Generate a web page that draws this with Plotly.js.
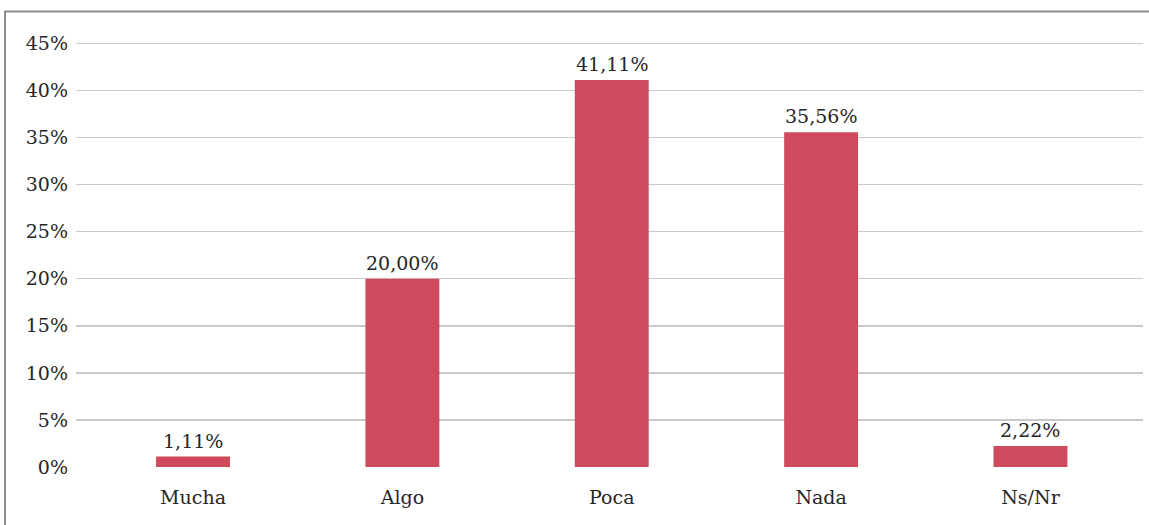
<!DOCTYPE html>
<html>
<head>
<meta charset="utf-8">
<script src="https://cdn.plot.ly/plotly-3.0.1.min.js"></script>
<style>
html,body{margin:0;padding:0;background:#fff;}
#chart{width:1149px;height:525px;}
</style>
</head>
<body>
<div id="chart"></div>
<script>
const categories = ["Mucha", "Algo", "Poca", "Nada", "Ns/Nr"];
const values = [1.11, 20.00, 41.11, 35.56, 2.22];
const yTicks = [0, 5, 10, 15, 20, 25, 30, 35, 40, 45];

const FONT = "DejaVu Serif, Liberation Serif, serif";
const barColor = "#CE4A5C";
const textColor = "#262626";
const FS = 19;

const trace = {
  type: "bar",
  x: categories,
  y: values,
  marker: {color: barColor},
  hoverinfo: "skip"
};

const annotations = categories.map((c, i) => ({
  x: c,
  y: values[i],
  xref: "x",
  yref: "y",
  text: values[i].toFixed(2).replace(".", ",") + "%",
  showarrow: false,
  yanchor: "bottom",
  yshift: 3,
  font: {family: FONT, size: FS, color: textColor}
}));

const layout = {
  width: 1149,
  height: 525,
  margin: {l: 76, r: 6, t: 34, b: 58, pad: 0},
  paper_bgcolor: "#ffffff",
  plot_bgcolor: "#ffffff",
  bargap: 0.647,
  showlegend: false,
  font: {family: FONT, size: FS, color: textColor},
  xaxis: {
    type: "category",
    range: [-0.559, 4.5375],
    showgrid: false,
    zeroline: false,
    showline: false,
    ticks: "",
    ticklabelstandoff: 17,
    tickfont: {family: FONT, size: FS, color: textColor},
    fixedrange: true
  },
  yaxis: {
    range: [0, 46],
    tickvals: yTicks,
    ticktext: yTicks.map(v => v + "%"),
    showgrid: true,
    gridcolor: "#c9c9c9",
    gridwidth: 1.5,
    zeroline: false,
    showline: false,
    ticks: "",
    ticklabelstandoff: 7,
    tickfont: {family: FONT, size: FS, color: textColor},
    fixedrange: true
  },
  annotations: annotations,
  shapes: [{
    type: "path",
    xref: "paper",
    yref: "paper",
    path: "M -0.0665 -0.3 L -0.0665 1.052 L 1.1 1.052",
    line: {color: "#8c8c8c", width: 2},
    layer: "above"
  }]
};

Plotly.newPlot("chart", [trace], layout, {displayModeBar: false, staticPlot: true});
</script>
</body>
</html>
